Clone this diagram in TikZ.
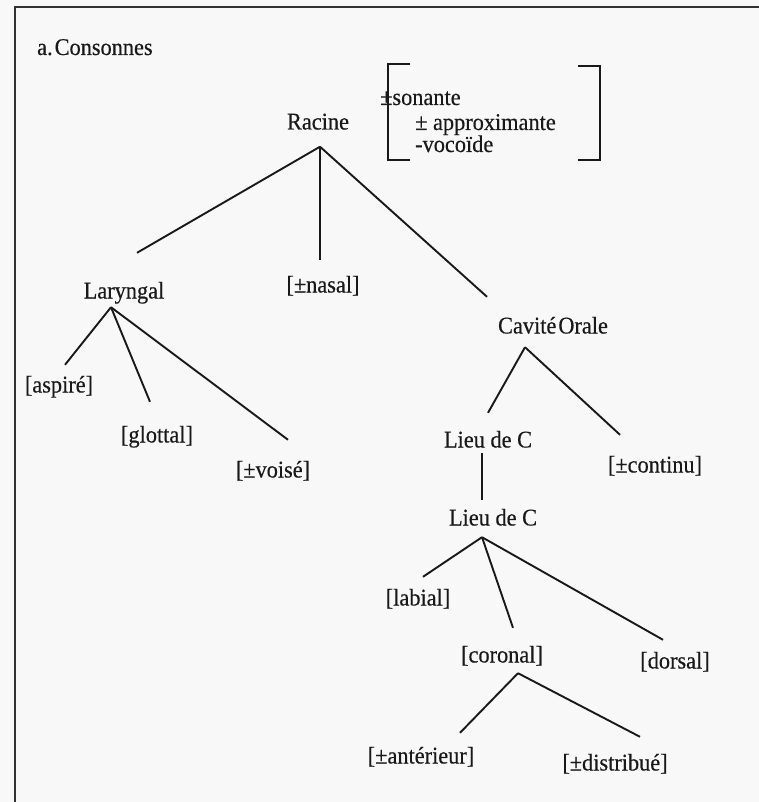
\documentclass[tikz,border=0pt]{standalone}
\usepackage{fontspec}
\setmainfont{Liberation Serif}[FakeStretch=0.93, FakeBold=0.4]
\usepackage{tikz}

\definecolor{pagebg}{RGB}{248,248,248}
\definecolor{framegray}{RGB}{50,50,50}
\definecolor{ink}{RGB}{25,25,25}

\begin{document}
\begin{tikzpicture}[
    x=1pt, y=-1pt,
    every node/.style={inner sep=0pt, text=ink, font=\fontsize{24}{28}\selectfont},
    feat/.style={text height=16pt, text depth=5pt},
    branch/.style={line width=1.9pt, draw=ink},
    bracket/.style={line width=2pt, draw=ink}
]

\fill[pagebg] (0,0) rectangle (759,802);
\useasboundingbox (0,0) rectangle (759,802);
\draw[line width=2.5pt, framegray] (15,802) -- (15,7) -- (759,7);

\node[anchor=base west] (title) at (37,55) {a.\hspace{2pt}Consonnes};

% root and its features
\node[feat] (racine) at (318,124) {Racine};
\node[anchor=base west] (sonante) at (380,105) {±sonante};
\node[anchor=base west] (approx) at (415,130) {± approximante};
\node[anchor=base west] (vocoide) at (415,152) {-vocoïde};
\draw[bracket] (410,64) -- (388,64) -- (388,160) -- (410,160);
\draw[bracket] (578,66) -- (600,66) -- (600,160) -- (578,160);

\node[feat] (laryngal) at (124,293) {Laryngal};
\node[feat] (nasal) at (323,287) {[±nasal]};
\node[feat] (cavite) at (553,328) {Cavité\hspace{2pt}Orale};

\node[feat] (aspire) at (59,387) {[aspiré]};
\node[feat] (glottal) at (157,437) {[glottal]};
\node[feat] (voise) at (273,472) {[±voisé]};

\node[feat] (lieuA) at (488,442) {Lieu de C};
\node[feat] (continu) at (655,467) {[±continu]};
\node[feat] (lieuB) at (493,520) {Lieu de C};

\node[feat] (labial) at (418,600) {[labial]};
\node[feat] (coronal) at (502,657) {[coronal]};
\node[feat] (dorsal) at (675,663) {[dorsal]};

\node[feat] (anterieur) at (421,758) {[±antérieur]};
\node[feat] (distribue) at (615,765) {[±distribué]};

\draw[branch] ([xshift=2pt,yshift=-12pt]racine.south) -- ([xshift=13pt,yshift=29.5pt]laryngal.north);
\draw[branch] ([xshift=2pt,yshift=-12pt]racine.south) -- ([xshift=-3pt,yshift=16.5pt]nasal.north);
\draw[branch] ([xshift=2pt,yshift=-12pt]racine.south) -- ([xshift=-66pt,yshift=20.5pt]cavite.north);

\draw[branch] ([xshift=-13pt,yshift=-3.5pt]laryngal.south) -- ([xshift=6pt,yshift=11.5pt]aspire.north);
\draw[branch] ([xshift=-13pt,yshift=-3.5pt]laryngal.south) -- ([xshift=-7pt,yshift=24.5pt]glottal.north);
\draw[branch] ([xshift=-13pt,yshift=-3.5pt]laryngal.south) -- ([xshift=15pt,yshift=21.5pt]voise.north);

\draw[branch] ([xshift=-28pt,yshift=-8.5pt]cavite.south) -- ([xshift=0pt,yshift=18.5pt]lieuA.north);
\draw[branch] ([xshift=-28pt,yshift=-8.5pt]cavite.south) -- ([xshift=-35pt,yshift=21.5pt]continu.north);

\draw[branch] ([xshift=-6pt,yshift=-0.5pt]lieuA.south) -- ([xshift=-11pt,yshift=9.5pt]lieuB.north);

\draw[branch] ([xshift=-11pt,yshift=-6.5pt]lieuB.south) -- ([xshift=5pt,yshift=12.5pt]labial.north);
\draw[branch] ([xshift=-11pt,yshift=-6.5pt]lieuB.south) -- ([xshift=11pt,yshift=18.5pt]coronal.north);
\draw[branch] ([xshift=-11pt,yshift=-6.5pt]lieuB.south) -- ([xshift=-12pt,yshift=12.5pt]dorsal.north);

\draw[branch] ([xshift=16pt,yshift=-5.5pt]coronal.south) -- ([xshift=39pt,yshift=14.5pt]anterieur.north);
\draw[branch] ([xshift=16pt,yshift=-5.5pt]coronal.south) -- ([xshift=25pt,yshift=17.5pt]distribue.north);

\end{tikzpicture}
\end{document}
